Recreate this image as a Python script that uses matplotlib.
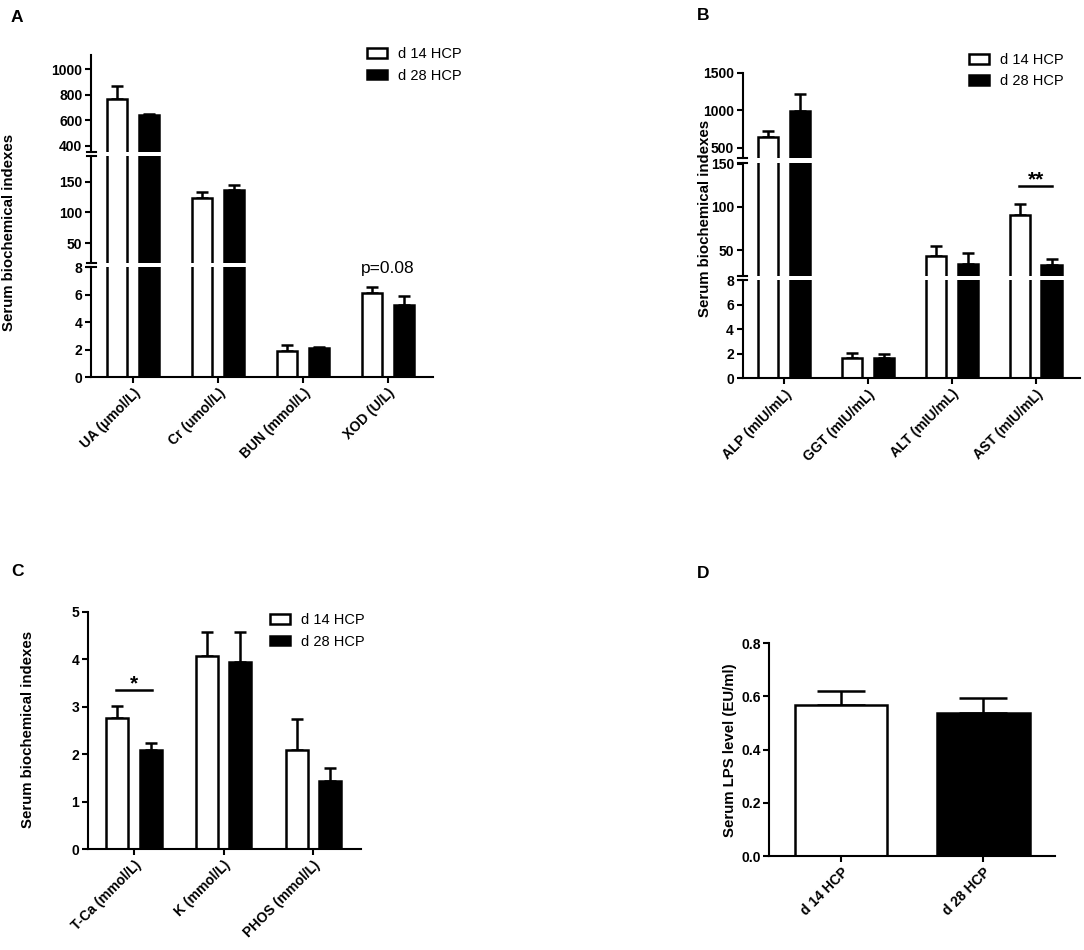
import numpy as np
import matplotlib
matplotlib.use('Agg')
import matplotlib.pyplot as plt
from matplotlib.patches import Patch

plt.rcParams['font.family'] = ['Liberation Sans', 'DejaVu Sans']

# ---- data ----
groups = ['d 14 HCP', 'd 28 HCP']

a_cats = ['UA (μmol/L)', 'Cr (umol/L)', 'BUN (mmol/L)', 'XOD (U/L)']
a_d14 = [765, 123.5, 1.90, 6.10]
a_d14_err = [102, 9.5, 0.44, 0.50]
a_d28 = [640, 136.5, 2.12, 5.28]
a_d28_err = [10, 8.0, 0.12, 0.60]

b_cats = ['ALP (mIU/mL)', 'GGT (mIU/mL)', 'ALT (mIU/mL)', 'AST (mIU/mL)']
b_d14 = [639, 1.68, 43.4, 90.4]
b_d14_err = [89, 0.35, 11.6, 13.4]
b_d28 = [991, 1.68, 33.8, 32.3]
b_d28_err = [227, 0.27, 12.4, 7.3]

c_cats = ['T-Ca (mmol/L)', 'K (mmol/L)', 'PHOS (mmol/L)']
c_d14 = [2.77, 4.07, 2.10]
c_d14_err = [0.25, 0.51, 0.65]
c_d28 = [2.09, 3.95, 1.44]
c_d28_err = [0.14, 0.63, 0.28]

d_vals = [0.567, 0.539]
d_err = [0.054, 0.057]

W, H = 1084, 950
fig = plt.figure(figsize=(W / 100, H / 100), dpi=100)

LW = 1.8
TICKSIZE = 10


def box(l, t, r, b):
    # pixel box -> figure fraction
    return [l / W, 1 - b / H, (r - l) / W, (b - t) / H]


def style_axis(ax, bottom=True):
    for s in ['top', 'right']:
        ax.spines[s].set_visible(False)
    ax.spines['left'].set_linewidth(1.5)
    ax.spines['bottom'].set_linewidth(1.5)
    if not bottom:
        ax.spines['bottom'].set_visible(False)
        ax.tick_params(axis='x', bottom=False, labelbottom=False)
    ax.tick_params(axis='both', direction='out', length=4.3, width=1.5, pad=2)
    for lab in ax.get_yticklabels():
        lab.set_fontweight('bold')
        lab.set_fontsize(TICKSIZE)


def draw_bars(ax, v14, e14, v28, e28, width=0.24, off=0.19):
    x = np.arange(len(v14))
    ax.bar(x - off, v14, width, color='white', edgecolor='black', linewidth=LW, zorder=2)
    ax.bar(x + off, v28, width, color='black', edgecolor='black', linewidth=LW, zorder=2)
    ax.errorbar(x - off, v14, yerr=[np.zeros(len(v14)), e14], fmt='none', ecolor='black',
                elinewidth=LW, capsize=4, capthick=LW, zorder=1)
    ax.errorbar(x + off, v28, yerr=[np.zeros(len(v28)), e28], fmt='none', ecolor='black',
                elinewidth=LW, capsize=4, capthick=LW, zorder=1)


def set_xlabels(ax, cats):
    ax.set_xticks(np.arange(len(cats)))
    ax.set_xticklabels(cats, rotation=45, ha='right', va='top', rotation_mode='anchor',
                       fontsize=TICKSIZE, fontweight='bold')


def broken_panel(l, r, segs, ylims, yticks, cats, v14, e14, v28, e28, xlim):
    axes = []
    for i, (t, b) in enumerate(segs):
        ax = fig.add_axes(box(l, t, r, b))
        draw_bars(ax, v14, e14, v28, e28)
        ax.set_xlim(*xlim)
        ax.set_ylim(*ylims[i])
        ax.set_yticks(yticks[i])
        ax.set_facecolor('none')
        style_axis(ax, bottom=(i == len(segs) - 1))
        axes.append(ax)
    set_xlabels(axes[-1], cats)
    # break marks on the y axis
    for i in range(len(axes) - 1):
        for ax, yy in [(axes[i], 0), (axes[i + 1], 1)]:
            dx = 4.5 / (r - l)
            ax.plot([-dx, dx], [yy, yy], transform=ax.transAxes, color='black',
                    lw=1.5, clip_on=False)
    return axes


def add_legend(x, y):
    handles = [Patch(facecolor='white', edgecolor='black', linewidth=LW),
               Patch(facecolor='black', edgecolor='black', linewidth=LW)]
    fig.legend(handles, groups, loc='center left', bbox_to_anchor=(x / W, 1 - y / H),
               frameon=False, fontsize=10.5, handlelength=1.35, handleheight=0.65,
               handletextpad=0.75, labelspacing=0.5, borderpad=0, borderaxespad=0)


# ---- panel A ----
axA = broken_panel(91, 433.3,
                   [(55, 151.7), (156, 263.3), (267.3, 377.3)],
                   [(353, 1110), (17.5, 191.7), (0, 8)],
                   [[400, 600, 800, 1000], [50, 100, 150], [0, 2, 4, 6, 8]],
                   a_cats, a_d14, a_d14_err, a_d28, a_d28_err, (-0.494, 3.533))
axA[2].text(3, 7.57, 'p=0.08', ha='center', va='baseline', fontsize=12.5)
add_legend(367, 65)

# ---- panel B ----
axB = broken_panel(742.7, 1080,
                   [(72.7, 157.7), (163.3, 275.7), (280.4, 378.3)],
                   [(367, 1500), (20.4, 150.5), (0, 8)],
                   [[500, 1000, 1500], [50, 100, 150], [0, 2, 4, 6, 8]],
                   b_cats, b_d14, b_d14_err, b_d28, b_d28_err, (-0.496, 3.53))
axB[1].plot([3 - 0.2, 3 + 0.2], [124, 124], color='black', lw=1.8, clip_on=False)
axB[1].text(3, 125, '**', ha='center', va='baseline', fontsize=15, fontweight='bold')
add_legend(969.3, 70.5)

# ---- panel C ----
axC = fig.add_axes(box(88, 611.7, 361, 849.3))
draw_bars(axC, c_d14, c_d14_err, c_d28, c_d28_err, width=0.245, off=0.185)
axC.set_xlim(-0.513, 2.53)
axC.set_ylim(0, 5)
axC.set_yticks([0, 1, 2, 3, 4, 5])
style_axis(axC)
set_xlabels(axC, c_cats)
axC.plot([-0.2, 0.2], [3.35, 3.35], color='black', lw=1.8)
axC.text(0, 3.37, '*', ha='center', va='baseline', fontsize=15, fontweight='bold')
add_legend(270, 631)

# ---- panel D ----
axD = fig.add_axes(box(769.3, 643.3, 1055, 856))
x = np.arange(len(groups))
axD.bar(x, d_vals, 0.65, color=['white', 'black'], edgecolor='black', linewidth=LW, zorder=2)
axD.errorbar(x, d_vals, yerr=[np.zeros(2), d_err], fmt='none', ecolor='black',
             elinewidth=LW, capsize=17.5, capthick=LW, zorder=1)
axD.set_xlim(-0.504, 1.504)
axD.set_ylim(0, 0.8)
axD.set_yticks([0.0, 0.2, 0.4, 0.6, 0.8])
axD.set_yticklabels(['0.0', '0.2', '0.4', '0.6', '0.8'])
style_axis(axD)
set_xlabels(axD, groups)

# ---- axis titles and panel letters ----
ylab = dict(rotation=90, ha='center', va='center', fontsize=10.8, fontweight='bold')
fig.text(9 / W, 1 - 232 / H, 'Serum biochemical indexes', **ylab)
fig.text(705 / W, 1 - 218 / H, 'Serum biochemical indexes', **ylab)
fig.text(28 / W, 1 - 729 / H, 'Serum biochemical indexes', **ylab)
fig.text(730 / W, 1 - 750 / H, 'Serum LPS level (EU/ml)', **ylab)

letter = dict(ha='center', va='center', fontsize=12.5, fontweight='bold')
fig.text(17 / W, 1 - 17 / H, 'A', **letter)
fig.text(703 / W, 1 - 16 / H, 'B', **letter)
fig.text(17 / W, 1 - 572 / H, 'C', **letter)
fig.text(703 / W, 1 - 573 / H, 'D', **letter)

fig.savefig('out.png', dpi=100)
